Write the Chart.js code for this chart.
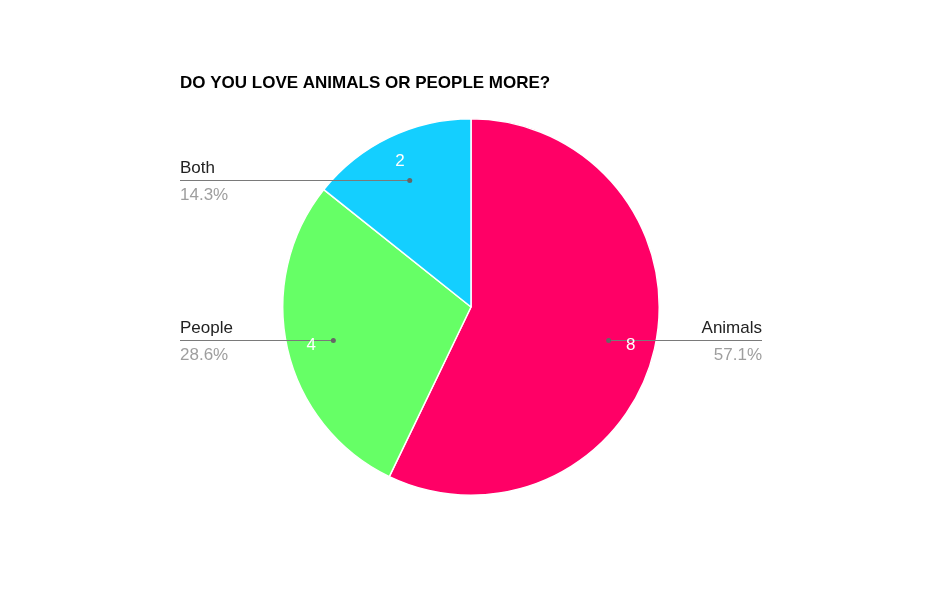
<!DOCTYPE html>
<html>
<head>
<meta charset="utf-8">
<script src="https://cdn.jsdelivr.net/npm/chart.js@4/dist/chart.umd.min.js"></script>
<style>
  html, body { margin: 0; padding: 0; background: #fff; }
  #wrap { width: 940px; height: 612px; }
</style>
</head>
<body>
<div id="wrap"><canvas id="myChart" width="940" height="612"></canvas></div>
<script>
const categories = ["Animals", "People", "Both"];
const counts = [8, 4, 2];
const colors = ["#ff0066", "#66ff66", "#14cfff"];
const chartTitle = "DO YOU LOVE ANIMALS OR PEOPLE MORE?";

const total = counts.reduce((a, b) => a + b, 0);

// draws title, leader lines, names, percents and values in the slices
const sliceLabels = {
  id: "sliceLabels",
  afterDraw(chart) {
    const ctx = chart.ctx;
    ctx.save();
    ctx.font = "bold 17px 'Liberation Sans', Arial, sans-serif";
    ctx.fillStyle = "#000";
    ctx.textAlign = "left";
    ctx.textBaseline = "alphabetic";
    ctx.fillText(chartTitle, 180, 88);

    const meta = chart.getDatasetMeta(0);
    meta.data.forEach((arc, i) => {
      const mid = (arc.startAngle + arc.endAngle) / 2;
      const r = arc.outerRadius;
      const dx = arc.x + Math.cos(mid) * r * 0.75;
      const dy = Math.round(arc.y + Math.sin(mid) * r * 0.75 + (Math.sin(mid) > 0 ? 1.5 : 0)) + 0.5;
      const onLeft = Math.cos(mid) < 0;
      const lineEnd = onLeft ? 180 : 762;

      ctx.strokeStyle = "#7a7a7a";
      ctx.lineWidth = 1;
      ctx.beginPath();
      ctx.moveTo(dx, dy);
      ctx.lineTo(lineEnd, dy);
      ctx.stroke();
      ctx.fillStyle = "#666";
      ctx.beginPath();
      ctx.arc(dx, dy, 2.5, 0, Math.PI * 2);
      ctx.fill();

      ctx.font = "17px 'Liberation Sans', Arial, sans-serif";
      ctx.textAlign = onLeft ? "left" : "right";
      ctx.fillStyle = "#222";
      ctx.fillText(categories[i], lineEnd, dy - 8);
      ctx.fillStyle = "#9e9e9e";
      const pct = (counts[i] / total * 100).toFixed(1) + "%";
      ctx.fillText(pct, lineEnd, dy + 19);

      const tx = arc.x + Math.cos(mid) * r * 0.87;
      const ty = arc.y + Math.sin(mid) * r * 0.87 + 2;
      ctx.fillStyle = "#fff";
      ctx.textAlign = "center";
      ctx.textBaseline = "middle";
      ctx.fillText(String(counts[i]), tx, ty);
      ctx.textBaseline = "alphabetic";
    });
    ctx.restore();
  }
};

const ctx = document.getElementById("myChart").getContext("2d");
new Chart(ctx, {
  type: "pie",
  data: {
    labels: categories,
    datasets: [{
      data: counts,
      backgroundColor: colors,
      borderColor: "#fff",
      borderWidth: 1.5
    }]
  },
  options: {
    responsive: false,
    animation: false,
    layout: { padding: { top: 118, bottom: 116, left: 2, right: 0 } },
    plugins: {
      legend: { display: false },
      tooltip: { enabled: false },
      title: { display: false }
    }
  },
  plugins: [sliceLabels]
});
</script>
</body>
</html>
